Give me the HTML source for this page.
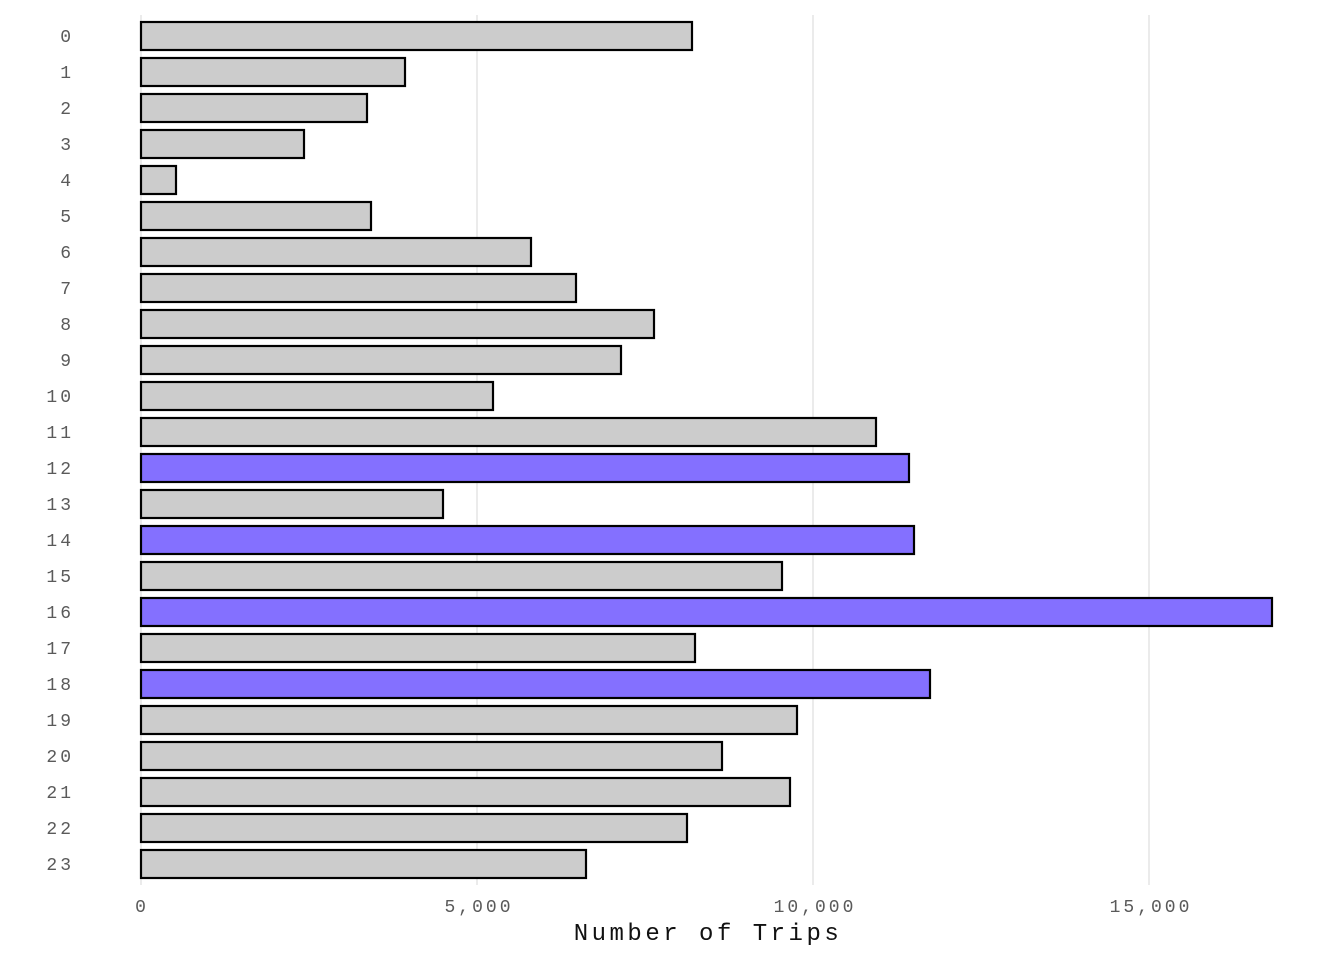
<!DOCTYPE html>
<html><head><meta charset="utf-8"><style>
html,body{margin:0;padding:0;background:#fff;}
</style></head><body>
<svg width="1344" height="960" xmlns="http://www.w3.org/2000/svg" font-family="Liberation Mono, monospace">
<rect width="1344" height="960" fill="#fff"/>
<g stroke="#ebebeb" stroke-width="2">
<line x1="141" y1="15" x2="141" y2="885"/>
<line x1="477" y1="15" x2="477" y2="885"/>
<line x1="813" y1="15" x2="813" y2="885"/>
<line x1="1149" y1="15" x2="1149" y2="885"/>
</g>
<g stroke="#000" stroke-width="2.2" id="bars"></g>
<g fill="#5a5a5a" font-size="18" letter-spacing="3" text-anchor="end" id="ylab"></g>
<g fill="#5a5a5a" font-size="18" letter-spacing="3" text-anchor="middle">
<text x="142" y="912">0</text>
<text x="479" y="912">5,000</text>
<text x="815" y="912">10,000</text>
<text x="1151" y="912">15,000</text>
</g>
<text x="708" y="940" font-size="24" letter-spacing="3.5" text-anchor="middle" fill="#111">Number of Trips</text>
<script>
var ends=[692,405,367,304,176,371,531,576,654,621,493,876,909,443,914,782,1272,695,930,797,722,790,687,586];
var hi={12:1,14:1,16:1,18:1};
var b=document.getElementById('bars'),l=document.getElementById('ylab'),ns='http://www.w3.org/2000/svg';
ends.forEach(function(e,i){
 var c=36+i*36;
 var r=document.createElementNS(ns,'rect');
 r.setAttribute('x',141);r.setAttribute('y',c-14);r.setAttribute('width',e-141);r.setAttribute('height',28);
 r.setAttribute('fill',hi[i]?'#8470ff':'#cccccc');b.appendChild(r);
 var t=document.createElementNS(ns,'text');t.setAttribute('x',74);t.setAttribute('y',c+6);t.textContent=i;l.appendChild(t);
});
</script>
</svg>
</body></html>
